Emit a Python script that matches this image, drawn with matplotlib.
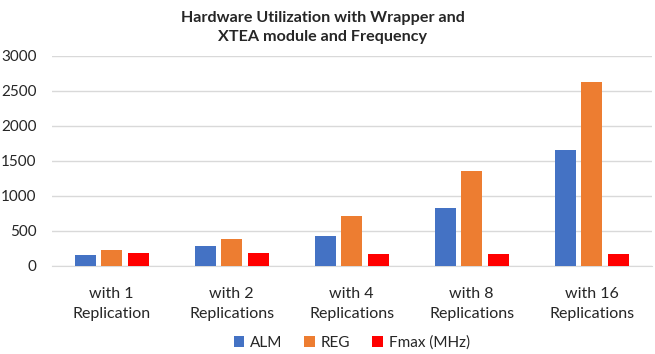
import numpy as np
import matplotlib
matplotlib.use("Agg")
import matplotlib.pyplot as plt

plt.rcParams['font.family'] = ['Lato', 'DejaVu Sans']

# datos
categorias = ["with 1\nReplication", "with 2\nReplications", "with 4\nReplications",
              "with 8\nReplications", "with 16\nReplications"]
alm = [150, 280, 420, 820, 1660]
reg = [230, 390, 710, 1350, 2630]
fmax = [190, 190, 170, 170, 170]

fig = plt.figure(figsize=(6.55, 3.54), dpi=100)
ax = fig.add_axes([0.079, 0.249, 0.916, 0.593])

x = np.arange(len(categorias))
w = 0.175
d = 0.222
ax.bar(x - d, alm, w, color="#4472C4", label="ALM", zorder=3)
ax.bar(x, reg, w, color="#ED7D31", label="REG", zorder=3)
ax.bar(x + d, fmax, w, color="#FF0000", label="Fmax (MHz)", zorder=3)

ax.set_xlim(-0.5, 4.5)
ax.set_ylim(0, 3000)
ax.set_yticks(range(0, 3001, 500))
ax.yaxis.grid(True, color="#D9D9D9", linewidth=1, zorder=0)
for s in ["top", "right", "left"]:
    ax.spines[s].set_visible(False)
ax.spines["bottom"].set_color("#D9D9D9")
ax.tick_params(length=0, labelsize=11, colors="#262626")
ax.tick_params(axis="y", pad=11)
ax.tick_params(axis="x", pad=15, labelsize=11.5)
ax.set_xticks(x)
ax.set_xticklabels(categorias, linespacing=1.55)

fig.text(0.493, 0.922, "Hardware Utilization with Wrapper and\nXTEA module and Frequency",
         ha="center", va="center", fontsize=11.6, fontweight="bold", color="#262626", linespacing=1.5)

ax.legend(loc="center", bbox_to_anchor=(0.5, -0.365), ncol=3, frameon=False,
          fontsize=11, handlelength=0.7, handleheight=0.7, handletextpad=0.4,
          columnspacing=1.4, labelcolor="#262626")

plt.savefig("out.png", dpi=100)
